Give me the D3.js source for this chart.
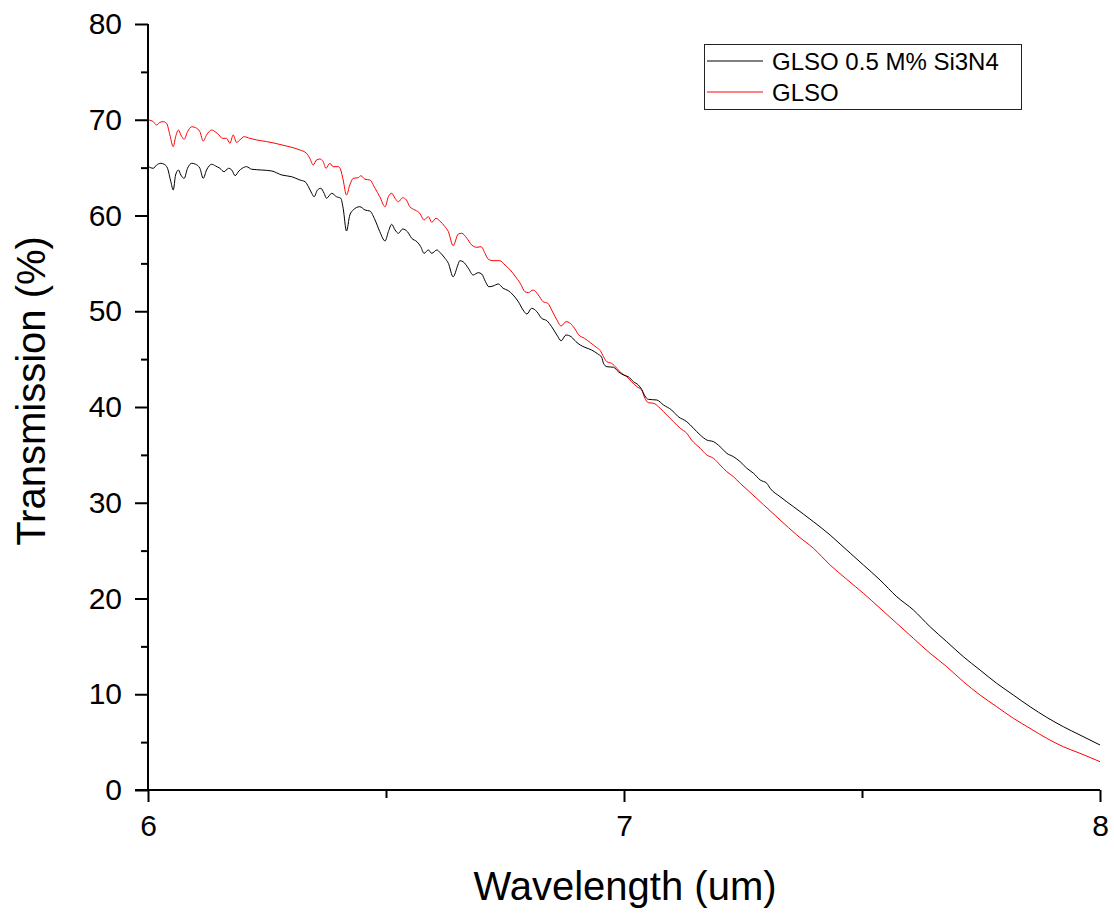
<!DOCTYPE html>
<html>
<head>
<meta charset="utf-8">
<script src="https://cdn.jsdelivr.net/npm/d3@7"></script>
<style>
  html, body { margin: 0; padding: 0; background: #fff; }
  svg { display: block; }
  text { font-family: "Liberation Sans", Arial, sans-serif; fill: #000; }
</style>
</head>
<body>
<svg id="chart" width="1114" height="913"></svg>
<script>
// ---- Data ----
const seriesNames = ["GLSO 0.5 M% Si3N4", "GLSO"];
const seriesColors = ["#000000", "#ff0000"];

const wavelengthSiN = [
  6.001,6.011,6.018,6.027,6.034,6.041,6.048,6.053,6.058,6.064,6.069,6.076,6.083,6.092,6.100,6.109,6.116,6.123,6.134,6.142,
  6.151,6.160,6.169,6.176,6.183,6.191,6.198,6.207,6.218,6.239,6.260,6.281,6.302,
  6.319,6.330,6.337,6.344,6.349,6.356,6.363,6.370,6.375,6.386,6.396,6.405,6.410,6.417,6.424,6.431,6.445,6.456,6.466,6.477,
  6.487,6.498,6.505,6.512,6.519,6.526,6.535,6.545,6.554,6.565,6.573,6.580,6.589,6.596,6.607,6.613,6.624,6.631,6.641,
  6.651,6.655,6.662,6.673,6.683,6.694,6.701,6.709,6.716,6.725,6.736,6.746,6.757,6.767,6.778,6.788,6.796,6.806,6.817,
  6.827,6.838,6.848,6.859,6.868,6.878,6.889,6.899,6.908,6.918,6.932,6.945,6.953,6.957,6.964,6.978,6.988,6.999,
  7.009,7.020,7.030,7.037,7.044,7.051,7.069,7.083,7.100,7.114,7.132,7.146,7.160,7.174,7.188,7.202,7.216,7.230,7.244,
  7.258,7.272,7.286,7.300,7.307,7.328,7.356,7.398,7.433,7.454,7.475,7.503,7.538,7.573,7.608,7.643,7.678,7.713,7.748,
  7.783,7.818,7.853,7.888,7.923,7.958,8.000
];
const transmissionSiN = [
  65.10,64.93,65.27,65.45,65.35,64.93,63.53,62.66,64.23,64.75,64.23,63.88,64.93,65.45,65.35,64.93,63.88,64.75,65.35,65.17,
  64.93,64.57,64.93,64.75,64.16,64.65,64.93,65.10,64.83,64.75,64.65,64.23,64.05,
  63.71,63.53,63.01,62.32,61.96,62.66,62.84,62.32,61.80,62.32,61.96,61.80,60.75,58.38,60.05,60.57,60.92,60.57,60.47,59.53,
  58.31,57.34,58.31,59.08,58.49,58.14,58.59,58.31,57.62,57.26,56.74,56.05,56.40,56.05,56.40,56.16,55.53,55.01,53.60,
  54.83,55.28,55.17,54.49,53.79,54.03,53.89,53.09,52.56,52.64,52.85,52.40,52.15,51.70,51.00,50.13,49.71,50.31,49.95,
  49.26,49.01,48.39,47.52,46.92,47.52,47.34,46.82,46.48,46.23,45.95,45.54,45.20,44.56,44.21,44.15,43.69,43.34,
  43.16,42.64,42.30,41.85,41.15,40.80,40.73,40.21,39.69,38.99,38.46,37.78,37.08,36.55,36.38,35.85,35.16,34.81,34.29,
  33.60,33.08,32.38,32.03,31.51,30.63,29.59,28.02,26.63,25.69,24.75,23.50,21.93,20.19,18.80,17.05,15.49,13.92,12.53,
  11.14,9.92,8.70,7.59,6.61,5.74,4.70
];

const wavelengthGLSO = [
  6.001,6.011,6.018,6.025,6.032,6.039,6.046,6.053,6.058,6.064,6.069,6.076,6.083,6.092,6.100,6.109,6.116,6.123,6.134,6.141,
  6.149,6.156,6.165,6.172,6.179,6.186,6.193,6.202,6.214,6.228,6.249,6.267,6.288,6.309,
  6.319,6.333,6.340,6.347,6.354,6.361,6.368,6.374,6.382,6.389,6.400,6.405,6.410,6.417,6.424,6.431,6.442,6.447,6.456,6.466,
  6.477,6.487,6.498,6.505,6.512,6.519,6.526,6.535,6.543,6.550,6.561,6.571,6.580,6.589,6.596,6.605,6.613,6.624,6.631,6.641,
  6.652,6.659,6.670,6.680,6.691,6.700,6.708,6.715,6.725,6.739,6.750,6.761,6.771,6.782,6.792,6.799,6.809,6.820,6.830,
  6.840,6.848,6.859,6.868,6.878,6.887,6.896,6.905,6.917,6.929,6.943,6.950,6.957,6.964,6.974,6.985,6.995,
  7.006,7.016,7.027,7.037,7.044,7.051,7.062,7.076,7.090,7.104,7.118,7.132,7.142,7.160,7.174,7.188,7.202,7.216,7.230,
  7.244,7.258,7.293,7.328,7.363,7.398,7.433,7.468,7.503,7.538,7.573,7.608,7.643,7.678,7.713,7.748,7.783,7.818,7.853,
  7.888,7.923,7.958,8.000
];
const transmissionGLSO = [
  69.97,69.80,69.45,69.73,69.80,69.63,68.41,67.19,68.23,68.93,68.41,67.96,68.75,69.27,69.17,68.75,67.78,68.41,68.93,68.75,
  68.41,68.06,68.06,67.54,68.41,67.64,67.89,68.23,68.06,67.89,67.72,67.54,67.29,67.02,
  66.84,66.50,65.97,65.27,65.80,65.90,65.62,64.93,65.45,65.10,65.10,64.75,63.71,62.14,63.19,63.88,63.95,64.16,63.78,63.71,
  62.84,61.96,60.92,61.96,62.32,61.80,61.44,61.86,61.62,60.92,60.57,60.23,59.53,59.88,59.29,59.71,59.43,58.83,58.31,56.85,
  58.07,58.14,57.62,56.92,56.68,56.74,56.05,55.43,55.28,55.28,54.83,54.31,53.68,52.92,52.04,51.94,52.22,51.70,51.00,
  50.83,50.13,49.09,48.46,48.91,48.74,48.22,47.52,47.18,46.72,46.20,45.90,45.25,44.73,44.56,44.04,43.52,
  43.16,42.64,42.12,41.78,40.91,40.45,40.39,39.86,39.16,38.46,37.78,37.25,36.55,35.69,34.99,34.64,33.94,33.24,32.72,
  32.03,31.40,29.80,28.20,26.63,25.24,23.50,22.00,20.54,18.98,17.41,15.84,14.28,12.88,11.31,9.92,8.70,7.49,6.44,
  5.40,4.52,3.83,2.96
];

const xMajorTicks = [6, 7, 8];
const xMinorTicks = [6.5, 7.5];
const yMajorTicks = [0, 10, 20, 30, 40, 50, 60, 70, 80];
const yMinorTicks = [5, 15, 25, 35, 45, 55, 65, 75];
const xTitle = "Wavelength (um)";
const yTitle = "Transmission (%)";

// ---- Layout ----
const svg = d3.select("#chart");
const plot = { left: 148, right: 1100, top: 24, bottom: 790 };

const x = d3.scaleLinear().domain([6, 8]).range([plot.left, plot.right]);
const y = d3.scaleLinear().domain([0, 80]).range([plot.bottom, plot.top]);

const series = [
  { name: seriesNames[0], color: seriesColors[0], xs: wavelengthSiN, ys: transmissionSiN },
  { name: seriesNames[1], color: seriesColors[1], xs: wavelengthGLSO, ys: transmissionGLSO }
];

const line = d3.line()
  .x(d => x(d[0]))
  .y(d => y(d[1]))
  .curve(d3.curveMonotoneX);

[series[1], series[0]].forEach(s => {
  const pts = s.xs.map((v, i) => [v, s.ys[i]]);
  svg.append("path")
    .datum(pts)
    .attr("fill", "none")
    .attr("stroke", s.color)
    .attr("stroke-width", 1)
    .attr("stroke-linejoin", "round")
    .attr("d", line);
});

// ---- Axes ----
const axisFont = 30;

svg.append("g")
  .attr("transform", `translate(0,${plot.bottom})`)
  .call(d3.axisBottom(x).tickValues(xMinorTicks).tickSize(8).tickFormat("").tickSizeOuter(0))
  .call(g => g.select(".domain").remove())
  .call(g => g.selectAll("line").attr("stroke-width", 2));

const gx = svg.append("g")
  .attr("transform", `translate(0,${plot.bottom})`)
  .call(d3.axisBottom(x).tickValues(xMajorTicks).tickSize(12).tickPadding(13).tickFormat(d3.format("d")).tickSizeOuter(0));
gx.select(".domain").attr("stroke-width", 2).attr("d", `M${plot.left - 13},0H${plot.right}`);
gx.selectAll("line").attr("stroke-width", 2);
gx.selectAll("text").attr("font-size", axisFont).attr("font-family", "Liberation Sans, Arial, sans-serif");

svg.append("g")
  .attr("transform", `translate(${plot.left},0)`)
  .call(d3.axisLeft(y).tickValues(yMinorTicks).tickSize(7).tickFormat("").tickSizeOuter(0))
  .call(g => g.select(".domain").remove())
  .call(g => g.selectAll("line").attr("stroke-width", 2));

const gy = svg.append("g")
  .attr("transform", `translate(${plot.left},0)`)
  .call(d3.axisLeft(y).tickValues(yMajorTicks).tickSize(13).tickPadding(13).tickFormat(d3.format("d")).tickSizeOuter(0));
gy.select(".domain").attr("stroke-width", 2).attr("d", `M0,${plot.top}V${plot.bottom + 1}`);
gy.selectAll("line").attr("stroke-width", 2);
gy.selectAll("text").attr("font-size", axisFont).attr("font-family", "Liberation Sans, Arial, sans-serif");

// ---- Axis titles ----
svg.append("text")
  .attr("x", 625)
  .attr("y", 900)
  .attr("text-anchor", "middle")
  .attr("font-size", 40)
  .text(xTitle);

svg.append("text")
  .attr("transform", "translate(45,391) rotate(-90)")
  .attr("text-anchor", "middle")
  .attr("font-size", 40)
  .text(yTitle);

// ---- Legend ----
const legend = svg.append("g");
legend.append("rect")
  .attr("x", 704.5).attr("y", 44.5)
  .attr("width", 317).attr("height", 65)
  .attr("fill", "#fff")
  .attr("stroke", "#222")
  .attr("stroke-width", 1);

series.forEach((s, i) => {
  const ly = 61 + i * 31;
  legend.append("line")
    .attr("x1", 707).attr("x2", 763)
    .attr("y1", ly).attr("y2", ly)
    .attr("stroke", s.color)
    .attr("stroke-width", 1);
  legend.append("text")
    .attr("x", 772).attr("y", ly)
    .attr("dy", "0.36em")
    .attr("font-size", 24)
    .text(s.name);
});
</script>
</body>
</html>
